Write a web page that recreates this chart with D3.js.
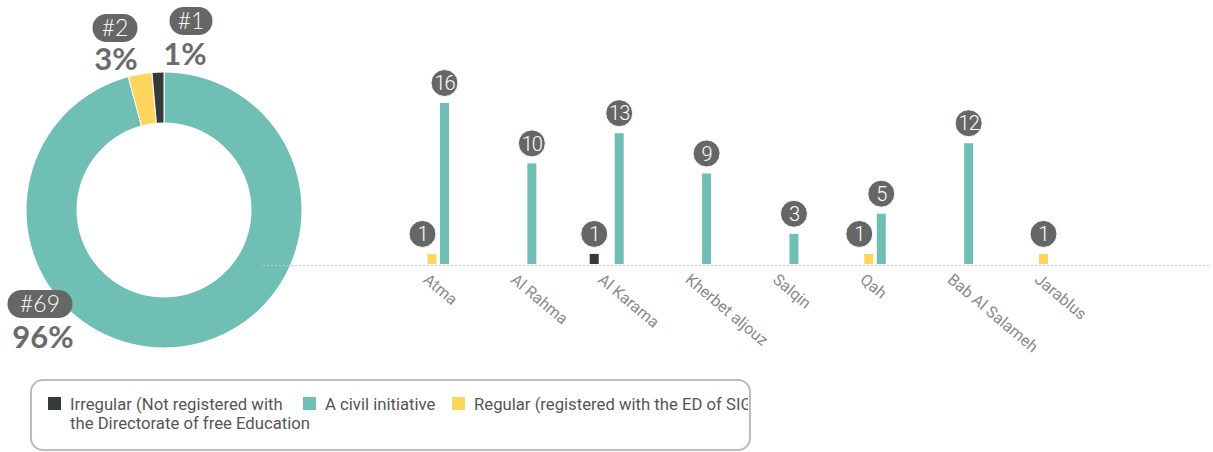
<!DOCTYPE html>
<html>
<head>
<meta charset="utf-8">
<script src="https://cdn.jsdelivr.net/npm/d3@7"></script>
<style>
  html, body { margin: 0; padding: 0; background: #fff; }
  svg { display: block; }
</style>
</head>
<body>
<svg id="chart" width="1213" height="452"></svg>
<script>
// ---- data ----
const seriesKeys = ["Irregular", "Regular", "Civil"];
const seriesNames = [
  ["Irregular (Not registered with", "the Directorate of free Education"],
  ["Regular (registered with the ED of SIG)"],
  ["A civil initiative"]
];
const seriesColors = ["#343a38", "#fdd55c", "#6fbfb5"];

// totals per type for the donut
const donutKeys = ["Civil", "Regular", "Irregular"];
const donutValues = [69, 2, 1];

// bar chart by location
const locations = ["Atma", "Al Rahma", "Al Karama", "Kherbet aljouz", "Salqin", "Qah", "Bab Al Salameh", "Jarablus"];
const irregularValues = [0, 0, 1, 0, 0, 0, 0, 0];
const regularValues   = [1, 0, 0, 0, 0, 1, 0, 1];
const civilValues     = [16, 10, 13, 9, 3, 5, 12, 0];

const colorOf = d3.scaleOrdinal().domain(seriesKeys).range(seriesColors);
const svg = d3.select("#chart");

// ---- donut ----
const cx = 164, cy = 210, rOuter = 138, rInner = 87;
const pie = d3.pie().sort(null).value(d => d.value);
const arcs = pie(donutKeys.map((k, i) => ({ key: k, value: donutValues[i] })));
const arc = d3.arc().innerRadius(rInner).outerRadius(rOuter);
const donut = svg.append("g").attr("transform", `translate(${cx},${cy})`);
donut.selectAll("path").data(arcs).join("path")
  .attr("d", arc)
  .attr("fill", d => colorOf(d.data.key))
  .attr("stroke", "#fff")
  .attr("stroke-width", 1);

// callout placement for each slice (pill centre and percent text)
const donutTotal = d3.sum(donutValues);
const calloutPos = {
  Irregular: { px: 191, py: 21, tx: 185, ty: 65, w: 43 },
  Regular:   { px: 115, py: 28, tx: 116, ty: 70, w: 45 },
  Civil:     { px: 40,  py: 304, tx: 43, ty: 348, w: 65 }
};
const callouts = svg.append("g").selectAll("g").data(arcs).join("g");
callouts.append("rect")
  .attr("x", d => calloutPos[d.data.key].px - calloutPos[d.data.key].w / 2)
  .attr("y", d => calloutPos[d.data.key].py - 14)
  .attr("width", d => calloutPos[d.data.key].w)
  .attr("height", 28)
  .attr("rx", 14)
  .attr("fill", "#656766");
callouts.append("text")
  .attr("x", d => calloutPos[d.data.key].px)
  .attr("y", d => calloutPos[d.data.key].py + 8)
  .attr("text-anchor", "middle")
  .attr("font-family", "Lato, sans-serif")
  .attr("font-weight", 300)
  .attr("font-size", 23)
  .attr("fill", "#fff")
  .text(d => "#" + d.data.value);
callouts.append("text")
  .attr("x", d => calloutPos[d.data.key].tx)
  .attr("y", d => calloutPos[d.data.key].ty)
  .attr("text-anchor", "middle")
  .attr("font-family", "Lato, sans-serif")
  .attr("font-weight", 700)
  .attr("font-size", 31)
  .attr("fill", "#6b6b6b")
  .text(d => Math.round(d.data.value / donutTotal * 100) + "%");

// ---- grouped bars ----
const x0 = d3.scaleBand().domain(locations).range([415, 1060.5]).paddingInner(0.611).paddingOuter(0);
const x1 = d3.scaleBand().domain(seriesKeys).range([0, x0.bandwidth()]).paddingInner(0.28).paddingOuter(0);
const y = d3.scaleLinear().domain([0, 16]).range([264, 103]);

svg.append("line")
  .attr("x1", 263).attr("x2", 1210)
  .attr("y1", y(0) + 1.5).attr("y2", y(0) + 1.5)
  .attr("stroke", "#c4c4c4")
  .attr("stroke-width", 1)
  .attr("stroke-dasharray", "2,2");

const valuesByKey = { Irregular: irregularValues, Regular: regularValues, Civil: civilValues };
const barData = [];
locations.forEach((loc, i) => {
  seriesKeys.forEach(k => {
    const v = valuesByKey[k][i];
    if (v > 0) barData.push({ loc, key: k, value: v });
  });
});

const bars = svg.append("g");
bars.selectAll("rect").data(barData).join("rect")
  .attr("x", d => x0(d.loc) + x1(d.key))
  .attr("y", d => y(d.value))
  .attr("width", x1.bandwidth())
  .attr("height", d => y(0) - y(d.value))
  .attr("fill", d => colorOf(d.key));

// value badges; a badge that would run into the next bar of its group slides left
const badgeR = 13.5;
barData.forEach(d => {
  let bx = x0(d.loc) + x1(d.key) + x1.bandwidth() / 2;
  const next = barData.find(o => o.loc === d.loc && x1(o.key) > x1(d.key));
  if (next) {
    const nextLeft = x0(next.loc) + x1(next.key);
    if (bx + badgeR > nextLeft) bx = nextLeft - badgeR - 4;
  }
  d.bx = bx;
});
const badges = svg.append("g").selectAll("g").data(barData).join("g")
  .attr("transform", d => `translate(${d.bx},${y(d.value) - 20})`);
badges.append("circle")
  .attr("r", badgeR)
  .attr("fill", "#656766")
  .attr("stroke", "#fff")
  .attr("stroke-width", 1);
badges.append("text")
  .attr("text-anchor", "middle")
  .attr("dy", "0.36em")
  .attr("font-family", "Roboto, sans-serif")
  .attr("font-weight", 300)
  .attr("font-size", 20)
  .attr("letter-spacing", -1)
  .attr("fill", "#fff")
  .text(d => d.value);

// rotated category labels
svg.append("g").selectAll("text").data(locations).join("text")
  .attr("transform", d => `translate(${x0(d) + 15},${y(0) + 8}) rotate(40)`)
  .attr("dy", "0.75em")
  .attr("font-family", "Roboto, sans-serif")
  .attr("font-size", 16)
  .attr("fill", "#8a8a8a")
  .text(d => d);

// ---- legend ----
const legend = svg.append("g");
legend.append("clipPath").attr("id", "legendClip")
  .append("rect").attr("x", 31).attr("y", 380).attr("width", 717).attr("height", 70);
legend.append("rect")
  .attr("x", 31).attr("y", 380).attr("width", 719).attr("height", 70)
  .attr("rx", 12)
  .attr("fill", "#fff")
  .attr("stroke", "#bdbdbd")
  .attr("stroke-width", 2);
const legendX = [48, 452, 303];
const items = legend.append("g").attr("clip-path", "url(#legendClip)")
  .selectAll("g").data(seriesKeys).join("g")
  .attr("transform", (d, i) => `translate(${legendX[i]},397)`);
items.append("rect")
  .attr("width", 13).attr("height", 13)
  .attr("fill", d => colorOf(d));
items.append("text")
  .attr("x", 22)
  .attr("y", 13)
  .attr("font-family", "Roboto, sans-serif")
  .attr("font-size", 16.7)
  .attr("fill", "#555")
  .selectAll("tspan").data((d, i) => seriesNames[i]).join("tspan")
  .attr("x", 22)
  .attr("dy", (d, i) => i === 0 ? 0 : 19)
  .text(d => d);
</script>
</body>
</html>
